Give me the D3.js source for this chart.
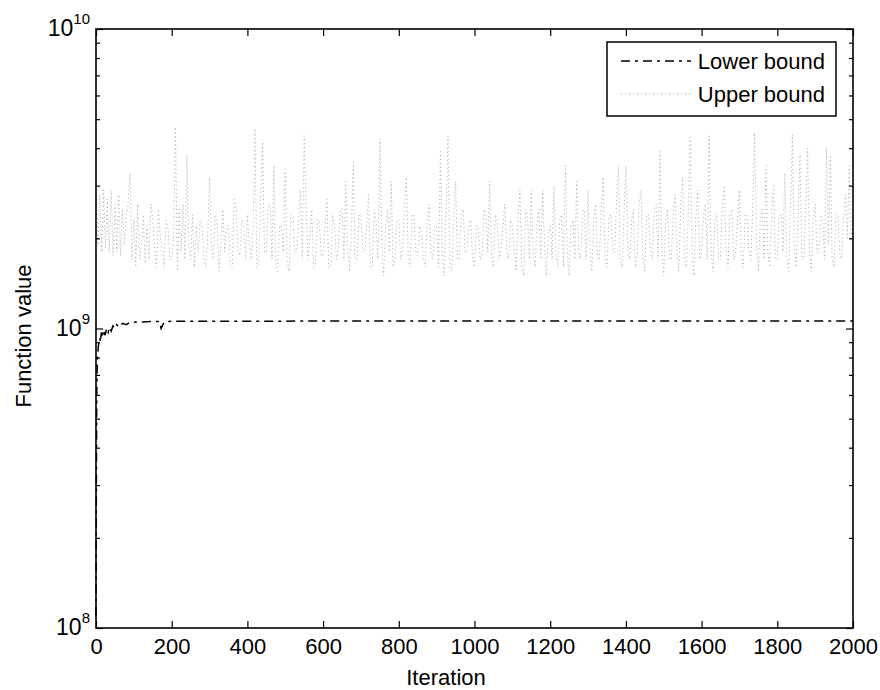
<!DOCTYPE html>
<html>
<head>
<meta charset="utf-8">
<script src="https://cdn.jsdelivr.net/npm/d3@7"></script>
<style>
  body { margin: 0; background: #fff; }
  text { font-family: "Liberation Sans", Arial, sans-serif; fill: #000; }
</style>
</head>
<body>
<svg id="chart" width="880" height="690"></svg>
<script>
// upper bound, one value every 5 iterations (units of 1e9)
const upperStep = 5;
const upperVals = [
  2.9, 1.9, 2.8, 1.8, 2.9, 1.85, 2.7, 1.8, 2.9, 1.75, 2.6, 1.8, 2.8, 1.75, 2.5, 1.9, 2.4, 2.6, 3.3, 1.7,
  2.3, 1.6, 2.6, 1.7, 1.9, 2.4, 1.65, 2.2, 1.7, 2.6, 2.3, 1.8, 1.6, 2.5, 2.0, 1.8, 1.6, 2.3, 2.2, 1.7,
  1.7, 2.0, 4.7, 1.55, 2.5, 1.8, 2.6, 1.7, 3.8, 1.9, 1.7, 2.4, 1.6, 2.2, 1.8, 2.3, 2.2, 1.7, 1.6, 2.0,
  3.2, 1.8, 1.7, 2.4, 2.3, 1.55, 1.9, 2.5, 1.8, 2.2, 2.2, 1.6, 1.6, 2.7, 2.6, 1.8, 1.75, 2.3, 2.2, 1.7,
  2.4, 1.9, 1.7, 2.1, 4.65, 1.6, 1.65, 2.8, 4.2, 1.8, 1.8, 2.6, 2.6, 1.7, 3.5, 1.6, 1.55, 2.2, 2.2, 1.8,
  3.4, 1.7, 1.55, 2.4, 2.4, 1.8, 1.8, 2.3, 2.9, 1.7, 4.4, 2.5, 1.7, 2.0, 2.5, 1.6, 1.65, 2.3, 2.3, 1.75,
  1.75, 2.2, 2.7, 1.6, 1.6, 2.4, 2.2, 1.7, 1.8, 2.5, 2.5, 1.7, 3.1, 1.9, 1.55, 2.2, 3.6, 1.7, 1.7, 2.4,
  2.4, 1.8, 1.8, 2.2, 2.8, 1.6, 1.6, 2.5, 2.3, 1.7, 4.3, 1.9, 1.5, 2.2, 2.5, 1.8, 3.1, 1.6, 1.7, 2.3,
  2.3, 1.7, 1.8, 2.6, 3.2, 1.7, 1.6, 2.4, 2.4, 1.8, 1.75, 2.2, 2.1, 1.7, 1.6, 2.3, 2.6, 1.8, 1.7, 2.2,
  2.2, 1.6, 3.9, 1.7, 1.5, 2.6, 4.4, 1.6, 1.55, 2.3, 3.1, 1.7, 1.7, 2.4, 2.5, 1.8, 1.8, 2.2, 2.3, 1.7,
  1.6, 2.2, 2.2, 1.7, 1.75, 2.5, 2.4, 1.8, 3.1, 1.7, 1.6, 2.4, 2.3, 1.7, 1.8, 2.2, 2.6, 1.8, 1.7, 2.3,
  2.2, 1.8, 1.55, 2.3, 2.9, 1.6, 1.5, 2.5, 2.4, 1.7, 2.9, 1.8, 1.6, 2.2, 2.5, 1.7, 2.9, 1.9, 1.5, 2.1,
  2.2, 1.7, 3.0, 1.8, 1.6, 2.3, 2.4, 1.6, 3.5, 1.8, 1.5, 2.2, 2.3, 1.7, 3.1, 1.8, 1.7, 2.4, 2.5, 1.7,
  2.9, 1.8, 1.55, 2.3, 2.6, 1.7, 1.7, 2.5, 3.2, 1.7, 1.6, 2.3, 2.4, 1.8, 1.8, 2.6, 3.5, 1.7, 1.6, 2.4,
  3.5, 1.8, 1.7, 2.3, 2.5, 1.6, 1.8, 2.6, 2.9, 1.7, 1.55, 2.4, 2.4, 1.8, 1.7, 2.5, 2.6, 1.7, 3.9, 1.8,
  1.5, 2.3, 2.5, 1.7, 1.7, 2.4, 2.8, 1.8, 1.55, 2.6, 3.2, 1.7, 1.6, 2.5, 4.35, 1.8, 1.5, 2.4, 2.9, 1.7,
  1.8, 2.4, 2.6, 1.7, 4.4, 1.8, 1.55, 2.3, 2.4, 1.7, 1.7, 2.6, 3.0, 1.8, 1.6, 2.4, 2.5, 1.7, 1.8, 2.3,
  2.9, 1.7, 1.6, 2.4, 2.4, 1.8, 1.7, 2.5, 4.5, 1.9, 1.55, 2.3, 2.5, 1.7, 3.5, 1.8, 1.6, 2.4, 3.0, 1.7,
  1.7, 2.3, 2.4, 1.8, 3.3, 1.7, 1.55, 2.6, 4.45, 1.8, 1.6, 2.4, 3.8, 1.7, 1.7, 2.5, 4.0, 1.8, 1.55, 2.3,
  2.6, 1.8, 1.8, 2.4, 2.3, 1.7, 4.0, 1.9, 3.8, 1.7, 1.6, 2.4, 2.4, 1.8, 1.7, 2.3, 2.8, 2.0, 3.5, 2.1,
  2.0
];

// lower bound (units of 1e9)
const lowerIter = [0, 1, 2, 3, 4, 6, 8, 10, 12, 14, 16, 20, 24, 28, 32, 36, 40, 45, 50, 55, 60, 70, 80, 90, 100, 150, 168, 172, 180, 200, 2000];
const lowerVals = [0.11, 0.3, 0.6, 0.72, 0.8, 0.87, 0.9, 0.93, 0.9, 0.97, 0.93, 0.99, 0.95, 1.0, 0.97, 1.01, 0.98, 1.02, 1.0, 1.03, 1.01, 1.04, 1.03, 1.05, 1.05, 1.055, 1.055, 1.0, 1.05, 1.058, 1.06];

const xTicks = [0, 200, 400, 600, 800, 1000, 1200, 1400, 1600, 1800, 2000];
const yMajor = [8, 9, 10];
const seriesNames = ["Lower bound", "Upper bound"];

const svg = d3.select("#chart");
const L = 96, R = 853, T = 29, B = 628;

const x = d3.scaleLinear().domain([0, 2000]).range([L, R]);
const y = d3.scaleLog().domain([1e8, 1e10]).range([B, T]);

const upper = upperVals.map((v, i) => ({ it: i * upperStep, v: v * 1e9 }));
const lower = lowerIter.map((it, i) => ({ it: it, v: lowerVals[i] * 1e9 }));

const line = d3.line().x(d => x(d.it)).y(d => y(d.v));

// data
svg.append("path").datum(upper)
  .attr("d", line)
  .attr("fill", "none")
  .attr("stroke", "#a8a8a8")
  .attr("stroke-width", 1)
  .attr("stroke-dasharray", "1,3");

svg.append("path").datum(lower)
  .attr("d", line)
  .attr("fill", "none")
  .attr("stroke", "#000")
  .attr("stroke-width", 1.5)
  .attr("stroke-dasharray", "9,5,3,5");

// axes
const fs = 22;
const xAxisB = svg.append("g").attr("transform", `translate(0,${B})`)
  .call(d3.axisBottom(x).tickValues(xTicks).tickFormat(d3.format("d"))
    .tickSizeInner(-7).tickSizeOuter(0).tickPadding(10));
svg.append("g").attr("transform", `translate(0,${T})`)
  .call(d3.axisTop(x).tickValues(xTicks).tickFormat("")
    .tickSizeInner(-7).tickSizeOuter(0));

const minors = [];
[1e8, 1e9].forEach(b => { for (let k = 2; k <= 9; k++) minors.push(b * k); });
const majors = yMajor.map(e => Math.pow(10, e));

svg.append("g").attr("transform", `translate(${L},0)`)
  .call(d3.axisLeft(y).tickValues(majors).tickFormat("").tickSizeInner(-7).tickSizeOuter(0));
svg.append("g").attr("transform", `translate(${L},0)`)
  .call(d3.axisLeft(y).tickValues(minors).tickFormat("").tickSizeInner(-4).tickSizeOuter(0));
svg.append("g").attr("transform", `translate(${R},0)`)
  .call(d3.axisRight(y).tickValues(majors).tickFormat("").tickSizeInner(-7).tickSizeOuter(0));
svg.append("g").attr("transform", `translate(${R},0)`)
  .call(d3.axisRight(y).tickValues(minors).tickFormat("").tickSizeInner(-4).tickSizeOuter(0));

svg.selectAll(".domain").remove();
svg.selectAll(".tick line").attr("stroke", "#000").attr("stroke-width", 1.2);
xAxisB.selectAll("text")
  .attr("font-family", "Liberation Sans, Arial, sans-serif")
  .attr("font-size", fs).attr("fill", "#000");

// frame
svg.append("rect")
  .attr("x", L).attr("y", T).attr("width", R - L).attr("height", B - T)
  .attr("fill", "none").attr("stroke", "#000").attr("stroke-width", 1.6);

// y labels 10^n
yMajor.forEach(e => {
  const t = svg.append("text")
    .attr("x", L - 6).attr("y", y(Math.pow(10, e)) + 7)
    .attr("text-anchor", "end").attr("font-size", 23);
  t.append("tspan").text("10");
  t.append("tspan").attr("dy", -12).attr("font-size", 15).text(e);
});

// axis titles
svg.append("text")
  .attr("x", 446).attr("y", 685)
  .attr("text-anchor", "middle").attr("font-size", fs)
  .text("Iteration");
svg.append("text")
  .attr("transform", `translate(31,336) rotate(-90)`)
  .attr("text-anchor", "middle").attr("font-size", fs)
  .text("Function value");

// legend
const lg = svg.append("g");
lg.append("rect")
  .attr("x", 607).attr("y", 42).attr("width", 229).attr("height", 74)
  .attr("fill", "#fff").attr("stroke", "#000").attr("stroke-width", 1.5);
const legendStyles = [
  { stroke: "#000", width: 1.5, dash: "9,5,3,5" },
  { stroke: "#a8a8a8", width: 1, dash: "1,3" }
];
seriesNames.forEach((name, i) => {
  const ly = 61 + i * 33;
  lg.append("line")
    .attr("x1", 621).attr("x2", 691).attr("y1", ly).attr("y2", ly)
    .attr("stroke", legendStyles[i].stroke)
    .attr("stroke-width", legendStyles[i].width)
    .attr("stroke-dasharray", legendStyles[i].dash);
  lg.append("text")
    .attr("x", 825).attr("y", ly + 8)
    .attr("text-anchor", "end").attr("font-size", fs)
    .text(name);
});
</script>
</body>
</html>
